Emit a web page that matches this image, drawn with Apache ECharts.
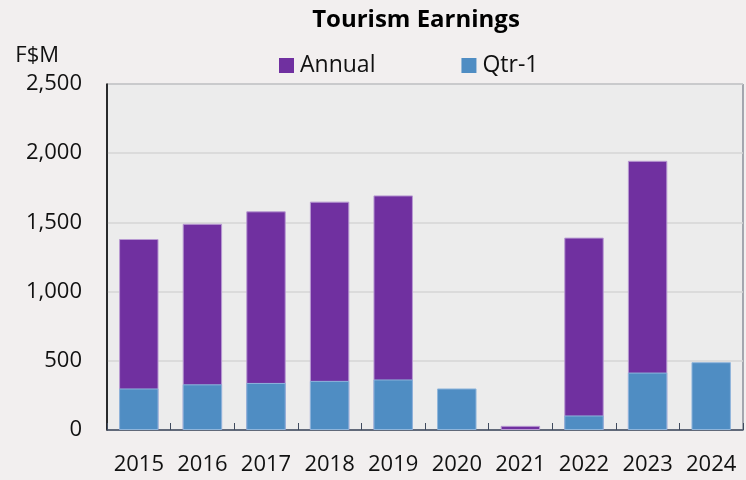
<!DOCTYPE html>
<html>
<head>
<meta charset="utf-8">
<script src="https://cdn.jsdelivr.net/npm/echarts@6/dist/echarts.min.js"></script>
<style>
  html, body { margin: 0; padding: 0; background: #f2efef; }
  #chart { width: 746px; height: 480px; }
</style>
</head>
<body>
<div id="chart"></div>
<script>
const years = ["2015", "2016", "2017", "2018", "2019", "2020", "2021", "2022", "2023", "2024"];
// F$M
const annual = [1380, 1490, 1580, 1650, 1695, null, 30, 1390, 1945, null];
const qtr1 = [300, 330, 340, 355, 365, 300, null, 105, 415, 490];

const font = "'Open Sans', 'Noto Sans', sans-serif";

const chart = echarts.init(document.getElementById("chart"));
chart.setOption({
  backgroundColor: "#f2efef",
  animation: false,
  textStyle: { fontFamily: font },
  title: {
    text: "Tourism Earnings",
    left: 411,
    textAlign: "center",
    top: 3,
    textStyle: { fontSize: 24, fontWeight: "bold", color: "#000", fontFamily: font },
  },
  legend: {
    left: 274,
    top: 49,
    itemWidth: 15,
    itemHeight: 15,
    itemGap: 86,
    icon: "rect",
    itemStyle: { borderWidth: 0 },
    textStyle: { fontSize: 23, color: "#111", fontFamily: font, padding: [0, 0, 0, 1] },
    data: ["Annual", "Qtr-1"],
  },
  grid: {
    left: 107,
    right: 3,
    top: 84,
    bottom: 50,
    show: true,
    backgroundColor: "#ececec",
    borderColor: "#5a6070",
    borderWidth: 1,
  },
  xAxis: {
    type: "category",
    data: years,
    axisLine: { lineStyle: { color: "#3f4a5e", width: 1.5 } },
    axisTick: { show: true, inside: true, length: 7, lineStyle: { color: "#3f4a5e" } },
    axisLabel: { fontSize: 22, color: "#111", margin: 24, interval: 0, hideOverlap: false, fontFamily: font },
  },
  yAxis: {
    type: "value",
    min: 0,
    max: 2500,
    interval: 500,
    name: "F$M",
    nameLocation: "end",
    nameGap: 28,
    nameTextStyle: {
      fontSize: 22,
      color: "#111",
      align: "right",
      verticalAlign: "middle",
      padding: [0, 48, 0, 0],
      fontFamily: font,
    },
    axisLine: { show: true, lineStyle: { color: "#000", width: 1.5 } },
    axisTick: { show: false },
    axisLabel: {
      fontSize: 22,
      color: "#111",
      margin: 25,
      fontFamily: font,
      formatter: (v) => v.toLocaleString("en-US"),
    },
    splitLine: { lineStyle: { color: "#d6d6d6", width: 1.5 } },
  },
  series: [
    {
      name: "Annual",
      type: "bar",
      data: annual,
      barWidth: "62%",
      itemStyle: { color: "#7030a0", borderColor: "#b89ad2", borderWidth: 1 },
    },
    {
      name: "Qtr-1",
      type: "bar",
      data: qtr1,
      barWidth: "62%",
      barGap: "-100%",
      itemStyle: { color: "#4f8dc3", borderColor: "#8fb5db", borderWidth: 1 },
    },
  ],
});
</script>
</body>
</html>
